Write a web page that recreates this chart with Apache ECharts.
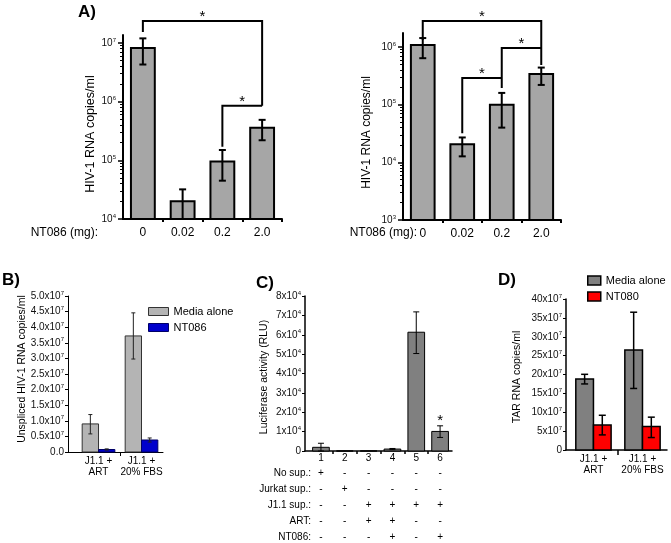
<!DOCTYPE html>
<html>
<head>
<meta charset="utf-8">
<script src="https://cdn.jsdelivr.net/npm/echarts@6.0.0/dist/echarts.min.js"></script>
<style>
html,body{margin:0;padding:0;background:#ffffff;}
#chart{width:671px;height:543px;}
</style>
</head>
<body>
<div id="chart"></div>
<script>
// ================= DATA =================
// Panel A (left and right): HIV-1 RNA copies/ml by NT086 dose
const doseLabels = ['0', '0.02', '0.2', '2.0'];
const doseTitle = 'NT086 (mg):';
const a1Values  = [8.2e6, 2.0e4, 9.6e4, 3.6e5];
const a1ErrLow  = [4.3e6, 1.0e4, 4.5e4, 2.2e5];
const a1ErrHigh = [1.2e7, 3.2e4, 1.5e5, 4.9e5];
const a1TickLabels = [1e4, 1e5, 1e6, 1e7];
// significance brackets: [fromIndex, toIndex, bracketLevel, leftLegEnd, rightLegEnd]
const a1Brackets = [[0, 3, 2.37e7, 1.54e7, 8.5e5], [2, 3, 8.5e5, 1.7e5, 8.5e5]];

const a2Values  = [1.08e6, 2.05e4, 1.0e5, 3.4e5];
const a2ErrLow  = [6.4e5, 1.27e4, 4.0e4, 2.2e5];
const a2ErrHigh = [1.43e6, 2.7e4, 1.6e5, 4.4e5];
const a2TickLabels = [1e3, 1e4, 1e5, 1e6];
const a2Brackets = [[0, 3, 2.82e6, 1.32e6, 4.9e5], [2, 3, 9.6e5, 1.95e5, 9.6e5], [1, 2, 2.9e5, 3.2e4, 2.9e5]];
const aAxisTitle = 'HIV-1 RNA copies/ml';

// Panel B: unspliced HIV-1 RNA
const cellGroups = ['J1.1 +\nART', 'J1.1 +\n20% FBS'];
const bNames = ['Media alone', 'NT086'];
const bMedia     = [0.90e7, 3.72e7];
const bMediaLow  = [0.58e7, 2.98e7];
const bMediaHigh = [1.20e7, 4.46e7];
const bNT        = [0.08e7, 0.385e7];
const bNTLow     = [0.06e7, 0.32e7];
const bNTHigh    = [0.10e7, 0.45e7];
const bAxisTitle = 'Unspliced HIV-1 RNA copies/ml';

// Panel C: luciferase activity
const cLanes = ['1', '2', '3', '4', '5', '6'];
const cValues  = [0.19e4, 0, 0, 0.10e4, 6.13e4, 1.01e4];
const cErrLow  = [0, 0, 0, 0.07e4, 5.03e4, 0.70e4];
const cErrHigh = [0.40e4, 0, 0, 0.13e4, 7.18e4, 1.30e4];
const cSignificant = [false, false, false, false, false, true];
const cRowLabels = ['No sup.:', 'Jurkat sup.:', 'J1.1 sup.:', 'ART:', 'NT086:'];
const cRows = [
  ['+', '-', '-', '-', '-', '-'],
  ['-', '+', '-', '-', '-', '-'],
  ['-', '-', '+', '+', '+', '+'],
  ['-', '-', '+', '+', '-', '-'],
  ['-', '-', '-', '+', '-', '+']
];
const cAxisTitle = 'Luciferase activity (RLU)';

// Panel D: TAR RNA
const dNames = ['Media alone', 'NT080'];
const dMedia     = [18.8e7, 26.5e7];
const dMediaLow  = [17.5e7, 16.3e7];
const dMediaHigh = [20.05e7, 36.5e7];
const dNT        = [6.6e7, 6.2e7];
const dNTLow     = [4.0e7, 3.3e7];
const dNTHigh    = [9.2e7, 8.7e7];
const dAxisTitle = 'TAR RNA copies/ml';

// ================= HELPERS =================
const FONT = '"Liberation Sans", Arial, sans-serif';
const supRich = {
  m: { fontSize: 10, lineHeight: 12, color: '#111', fontFamily: FONT },
  s: { fontSize: 6, lineHeight: 6, verticalAlign: 'top', color: '#111', fontFamily: FONT }
};
function powLabel(v) { return '{m|10}{s|' + Math.round(Math.log10(v)) + '}'; }
function sciLabel(v, unit, exp, fixed, zeroText) {
  if (Math.abs(v) < 1e-9) return '{m|' + zeroText + '}';
  const m = v / unit;
  return '{m|' + (fixed ? m.toFixed(1) : String(Math.round(m))) + 'x10}{s|' + exp + '}';
}
function minorLogTicks(lo, hi) {
  const out = [];
  for (let e = Math.floor(Math.log10(lo)); e <= Math.ceil(Math.log10(hi)); e++) {
    for (let k = 2; k <= 9; k++) { const v = k * Math.pow(10, e); if (v > lo && v < hi) out.push(v); }
  }
  return out;
}
function barRenderer(shift, halfW, base, fill, stroke, lw) {
  return function (params, api) {
    const x = api.value(0), v = api.value(1);
    const p1 = api.coord([x + shift - halfW, v]);
    const p2 = api.coord([x + shift + halfW, base]);
    return { type: 'rect', shape: { x: p1[0], y: p1[1], width: p2[0] - p1[0], height: p2[1] - p1[1] },
      style: { fill: fill, stroke: stroke, lineWidth: lw } };
  };
}
function errRenderer(shift, cap, stroke, lw) {
  return function (params, api) {
    const x = api.value(0);
    const lo = api.coord([x + shift, api.value(1)]);
    const hi = api.coord([x + shift, api.value(2)]);
    const st = { stroke: stroke, lineWidth: lw, fill: null };
    return { type: 'group', children: [
      { type: 'line', shape: { x1: lo[0], y1: lo[1], x2: hi[0], y2: hi[1] }, style: st },
      { type: 'line', shape: { x1: lo[0] - cap, y1: lo[1], x2: lo[0] + cap, y2: lo[1] }, style: st },
      { type: 'line', shape: { x1: hi[0] - cap, y1: hi[1], x2: hi[0] + cap, y2: hi[1] }, style: st }
    ] };
  };
}
function bracketRenderer(lw, starSize) {
  return function (params, api) {
    const x1 = api.value(0), x2 = api.value(1), top = api.value(2), le = api.value(3), re = api.value(4);
    const a = api.coord([x1, le]), b = api.coord([x1, top]), c = api.coord([x2, top]), d = api.coord([x2, re]);
    return { type: 'group', children: [
      { type: 'polyline', shape: { points: [a, b, c, d] }, style: { stroke: '#000', lineWidth: lw, fill: null } },
      { type: 'text', x: (b[0] + c[0]) / 2, y: b[1] - 4,
        style: { text: '*', fontSize: starSize, fontFamily: FONT, fill: '#000', align: 'center', verticalAlign: 'middle' } }
    ] };
  };
}
function starRenderer(starSize) {
  return function (params, api) {
    const p = api.coord([api.value(0), api.value(1)]);
    return { type: 'text', x: p[0], y: p[1] - 5,
      style: { text: '*', fontSize: starSize, fontFamily: FONT, fill: '#000', align: 'center', verticalAlign: 'middle' } };
  };
}
const pos0 = (v, i) => i;      // panel A categories at 0..3
const pos1 = (v, i) => i + 1;  // panels B, C, D categories at 1..n
function custom(name, xi, yi, data, renderItem, color, encodeY) {
  const s = { type: 'custom', xAxisIndex: xi, yAxisIndex: yi, data: data, renderItem: renderItem,
    clip: false, silent: true, encode: { x: 0, y: encodeY == null ? 1 : encodeY } };
  if (name) s.name = name;
  if (color) s.itemStyle = { color: color };
  return s;
}

// ================= AXES =================
function catXAxis(grid, min, max, tickVals, labelVals, labelFn, lw, tickLen, labelOpt) {
  return {
    gridIndex: grid, type: 'value', min: min, max: max, position: 'bottom',
    axisLine: { show: true, onZero: false, lineStyle: { color: '#000', width: lw } },
    axisTick: { show: true, length: tickLen, customValues: tickVals, lineStyle: { color: '#000', width: lw } },
    axisLabel: Object.assign({ customValues: labelVals, formatter: labelFn, color: '#000', fontFamily: FONT }, labelOpt),
    splitLine: { show: false }
  };
}
const a1Min = 1e4, a1Max = 1.37e7, a2Min = 1e3, a2Max = 1.75e6;
function logYAxis(grid, min, max, ticks, title, gap, fs, pad) {
  return [{
    gridIndex: grid, type: 'log', logBase: 10, min: min, max: max, position: 'left',
    axisLine: { show: true, onZero: false, lineStyle: { color: '#000', width: 2 } },
    axisTick: { show: true, length: 5, customValues: ticks, lineStyle: { color: '#000', width: 1.5 } },
    axisLabel: { customValues: ticks, margin: 7, formatter: powLabel, rich: supRich },
    splitLine: { show: false }, minorTick: { show: false },
    name: title, nameLocation: 'middle', nameGap: gap, nameMoveOverlap: false,
    nameTextStyle: { fontSize: fs, color: '#000', fontFamily: FONT, padding: pad }
  }, {
    gridIndex: grid, type: 'log', logBase: 10, min: min, max: max, position: 'left', offset: 0,
    axisLine: { show: false, onZero: false },
    axisTick: { show: true, length: 3, customValues: minorLogTicks(min, max), lineStyle: { color: '#000', width: 1 } },
    axisLabel: { show: false }, splitLine: { show: false }
  }];
}
function linYAxis(grid, max, interval, fmt, title, gap, lw, pad) {
  return {
    gridIndex: grid, type: 'value', min: 0, max: max, interval: interval, position: 'left',
    axisLine: { show: true, onZero: false, lineStyle: { color: '#000', width: lw } },
    axisTick: { show: true, length: 3, lineStyle: { color: '#000', width: 1 } },
    axisLabel: { margin: 4, formatter: fmt, rich: supRich },
    splitLine: { show: false },
    name: title, nameLocation: 'middle', nameGap: gap, nameMoveOverlap: false,
    nameTextStyle: { fontSize: 10.5, color: '#000', fontFamily: FONT, padding: pad }
  };
}

const aLabelOpt = { fontSize: 12, margin: 8 };
const grpLabelOpt = { fontSize: 10, lineHeight: 11, margin: 4 };
const cLabelFmt = function (v) {
  const i = Math.round(v) - 1;
  let s = '{n|' + cLanes[i] + '}';
  cRows.forEach(r => { s += '\n{r|' + r[i] + '}'; });
  return s;
};
const cRowH = 16, cNumH = 13, cMargin = 1;

const xAxes = [
  catXAxis(0, -0.5, 3.5, [0.5, 1.5, 2.5, 3.5], [0, 1, 2, 3], v => doseLabels[Math.round(v)], 2, 3, aLabelOpt),
  catXAxis(1, -0.5, 3.5, [0.5, 1.5, 2.5, 3.5], [0, 1, 2, 3], v => doseLabels[Math.round(v)], 2, 3, aLabelOpt),
  catXAxis(2, 0.29, 2.5, [1.5], [1, 2], v => cellGroups[Math.round(v) - 1], 1, 4, grpLabelOpt),
  catXAxis(3, 0.33, 6.5, [1.5, 2.5, 3.5, 4.5, 5.5], [1, 2, 3, 4, 5, 6], cLabelFmt, 1.5, 3,
    { margin: cMargin, rich: { n: { fontSize: 10, lineHeight: cNumH, color: '#000', fontFamily: FONT },
                                r: { fontSize: 10, lineHeight: cRowH, color: '#000', fontFamily: FONT } } }),
  catXAxis(4, 0.44, 2.5, [1.5], [1, 2], v => cellGroups[Math.round(v) - 1], 1.5, 5, grpLabelOpt)
];
const yAxes = [].concat(
  logYAxis(0, a1Min, a1Max, a1TickLabels, aAxisTitle, 26, 12.5, [0, 14, 0, 0]),
  logYAxis(1, a2Min, a2Max, a2TickLabels, aAxisTitle, 30, 12, [0, 12, 0, 0]),
  [
    linYAxis(2, 5e7, 5e6, v => sciLabel(v, 1e7, 7, true, '0.0'), bAxisTitle, 40, 1, [0, 0, 0, 10]),
    linYAxis(3, 8e4, 1e4, v => sciLabel(v, 1e4, 4, false, '0'), cAxisTitle, 35, 1.5, [0, 7, 0, 0]),
    linYAxis(4, 4e8, 5e7, v => sciLabel(v, 1e7, 7, false, '0'), dAxisTitle, 43, 1.5, [0, 5, 0, 0])
  ]
);

// ================= SERIES =================
const aGray = '#a6a6a6';
const series = [
  custom(null, 0, 0, a1Values.map((v, i) => [pos0(v, i), v]), barRenderer(0, 0.3, a1Min, aGray, '#000', 2), aGray),
  custom(null, 0, 0, a1ErrLow.map((v, i) => [pos0(v, i), v, a1ErrHigh[i]]), errRenderer(0, 3.5, '#000', 2)),
  custom(null, 0, 0, a1Brackets, bracketRenderer(2, 15), null, 2),
  custom(null, 1, 2, a2Values.map((v, i) => [pos0(v, i), v]), barRenderer(0, 0.3, a2Min, aGray, '#000', 2), aGray),
  custom(null, 1, 2, a2ErrLow.map((v, i) => [pos0(v, i), v, a2ErrHigh[i]]), errRenderer(0, 3.5, '#000', 2)),
  custom(null, 1, 2, a2Brackets, bracketRenderer(2, 15), null, 2),

  custom(bNames[0], 2, 4, bMedia.map((v, i) => [pos1(v, i), v]), barRenderer(-0.19, 0.19, 0, '#b4b4b4', '#333', 1), '#b4b4b4'),
  custom(bNames[1], 2, 4, bNT.map((v, i) => [pos1(v, i), v]), barRenderer(0.19, 0.19, 0, '#0000cc', '#000066', 1), '#0000cc'),
  custom(null, 2, 4, bMediaLow.map((v, i) => [pos1(v, i), v, bMediaHigh[i]]), errRenderer(-0.19, 2, '#222', 1)),
  custom(null, 2, 4, bNTLow.map((v, i) => [pos1(v, i), v, bNTHigh[i]]), errRenderer(0.19, 2, '#222', 1)),

  custom(null, 3, 5, cValues.map((v, i) => [pos1(v, i), v]), barRenderer(0, 0.35, 0, '#808080', '#000', 1), '#808080'),
  custom(null, 3, 5, cErrLow.map((v, i) => [pos1(v, i), v, cErrHigh[i]]).filter((d, i) => cErrHigh[i] > cValues[i]),
    errRenderer(0, 3, '#000', 1)),
  custom(null, 3, 5, cErrHigh.map((v, i) => [pos1(v, i), v]).filter((d, i) => cSignificant[i]), starRenderer(15)),

  custom(dNames[0], 4, 6, dMedia.map((v, i) => [pos1(v, i), v]), barRenderer(-0.18, 0.18, 0, '#808080', '#000', 1.5), '#808080'),
  custom(dNames[1], 4, 6, dNT.map((v, i) => [pos1(v, i), v]), barRenderer(0.18, 0.18, 0, '#ff0000', '#000', 1.5), '#ff0000'),
  custom(null, 4, 6, dMediaLow.map((v, i) => [pos1(v, i), v, dMediaHigh[i]]), errRenderer(-0.18, 3.5, '#000', 1.5)),
  custom(null, 4, 6, dNTLow.map((v, i) => [pos1(v, i), v, dNTHigh[i]]), errRenderer(0.18, 3.5, '#000', 1.5))
];

// ================= TEXT DECORATIONS =================
function txt(text, x, y, opt) {
  return { type: 'text', x: x, y: y, silent: true,
    style: Object.assign({ text: text, fontFamily: FONT, fill: '#000', fontSize: 10, align: 'left', verticalAlign: 'middle' }, opt) };
}
const panelFont = { fontSize: 17, fontWeight: 'bold', fontFamily: '"Liberation Sans", Arial, sans-serif' };
const graphics = [
  txt('A)', 78, 12, panelFont),
  txt('B)', 2, 280, panelFont),
  txt('C)', 256, 283, panelFont),
  txt('D)', 498, 280, panelFont),
  txt(doseTitle, 98, 233, { fontSize: 12, align: 'right' }),
  txt(doseTitle, 417, 233, { fontSize: 12, align: 'right' })
];
const cAxisY = 451;
cRowLabels.forEach((lab, k) => {
  graphics.push(txt(lab, 311, cAxisY + cMargin + cNumH + cRowH * k + cRowH / 2, { fontSize: 10, align: 'right' }));
});

// ================= CHART =================
const chart = echarts.init(document.getElementById('chart'), null, { renderer: 'canvas' });
chart.setOption({
  animation: false,
  backgroundColor: '#ffffff',
  textStyle: { fontFamily: FONT, color: '#000' },
  grid: [
    { left: 123, top: 35, width: 159, height: 184, outerBoundsMode: 'none' },
    { left: 403, top: 33, width: 158, height: 187, outerBoundsMode: 'none' },
    { left: 68, top: 296, width: 95, height: 156, outerBoundsMode: 'none' },
    { left: 305, top: 296, width: 147, height: 155, outerBoundsMode: 'none' },
    { left: 566, top: 299, width: 101, height: 151, outerBoundsMode: 'none' }
  ],
  xAxis: xAxes,
  yAxis: yAxes,
  legend: [
    { left: 143, top: 301, orient: 'vertical', itemWidth: 20, itemHeight: 8, itemGap: 5, selectedMode: false,
      icon: 'rect', textStyle: { fontSize: 11, color: '#000', fontFamily: FONT },
      data: [
        { name: bNames[0], icon: 'rect', itemStyle: { color: '#b4b4b4', borderColor: '#333', borderWidth: 1 } },
        { name: bNames[1], icon: 'rect', itemStyle: { color: '#0000cc', borderColor: '#000066', borderWidth: 1 } }
      ] },
    { left: 582, top: 270, orient: 'vertical', itemWidth: 13, itemHeight: 9, itemGap: 5, selectedMode: false,
      icon: 'rect', textStyle: { fontSize: 11, color: '#000', fontFamily: FONT },
      data: [
        { name: dNames[0], icon: 'rect', itemStyle: { color: '#808080', borderColor: '#000', borderWidth: 1.5 } },
        { name: dNames[1], icon: 'rect', itemStyle: { color: '#ff0000', borderColor: '#000', borderWidth: 1.5 } }
      ] }
  ],
  graphic: graphics,
  series: series
});
</script>
</body>
</html>
